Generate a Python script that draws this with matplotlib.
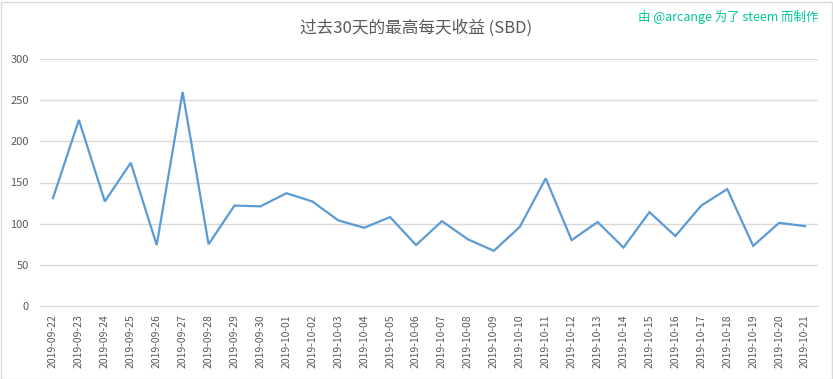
import matplotlib.pyplot as plt
from matplotlib.patches import Rectangle

plt.rcParams['font.family'] = ['Noto Sans CJK SC', 'DejaVu Sans']

dates = ['2019-09-22', '2019-09-23', '2019-09-24', '2019-09-25', '2019-09-26',
         '2019-09-27', '2019-09-28', '2019-09-29', '2019-09-30', '2019-10-01',
         '2019-10-02', '2019-10-03', '2019-10-04', '2019-10-05', '2019-10-06',
         '2019-10-07', '2019-10-08', '2019-10-09', '2019-10-10', '2019-10-11',
         '2019-10-12', '2019-10-13', '2019-10-14', '2019-10-15', '2019-10-16',
         '2019-10-17', '2019-10-18', '2019-10-19', '2019-10-20', '2019-10-21']
income = [131, 226, 127, 174, 74, 260, 75, 122, 121, 137,
          127, 104, 95, 108, 74, 103, 81, 67, 96, 155,
          80, 102, 71, 114, 85, 122, 142, 73, 101, 97]
yticks = [0, 50, 100, 150, 200, 250, 300]

fig = plt.figure(figsize=(8.33, 3.79), dpi=100)
ax = fig.add_axes([40/833, 73/379, 778/833, 247/379])

x = list(range(len(dates)))
ax.plot(x, income, color='#5b9bd5', linewidth=1.6, solid_joinstyle='miter')

ax.set_xlim(-0.5, len(dates) - 0.5)
ax.set_ylim(0, 300)
ax.set_yticks(yticks)
ax.set_xticks(x)
ax.set_xticklabels(dates, rotation=90)
ax.grid(axis='y', color='#d9d9d9', linewidth=1)
ax.set_axisbelow(True)
for s in ['top', 'right', 'left']:
    ax.spines[s].set_visible(False)
ax.spines['bottom'].set_color('#d9d9d9')
ax.tick_params(axis='both', length=0, colors='#595959', labelsize=7.5)
ax.tick_params(axis='y', pad=8, labelsize=8)
ax.tick_params(axis='x', pad=6)

fig.text(0.499, 0.925, '过去30天的最高每天收益 (SBD)', ha='center', va='center',
         fontsize=12, color='#595959')
fig.text(0.982, 0.955, '由 @arcange 为了 steem 而制作', ha='right', va='center',
         fontsize=9, color='#00c89a')

fig.patches.append(Rectangle((0.5/833, 0.5/379), 831/833, 377/379, transform=fig.transFigure,
                             fill=False, edgecolor='#d9d9d9', linewidth=1))

fig.savefig('out.png', dpi=100)
